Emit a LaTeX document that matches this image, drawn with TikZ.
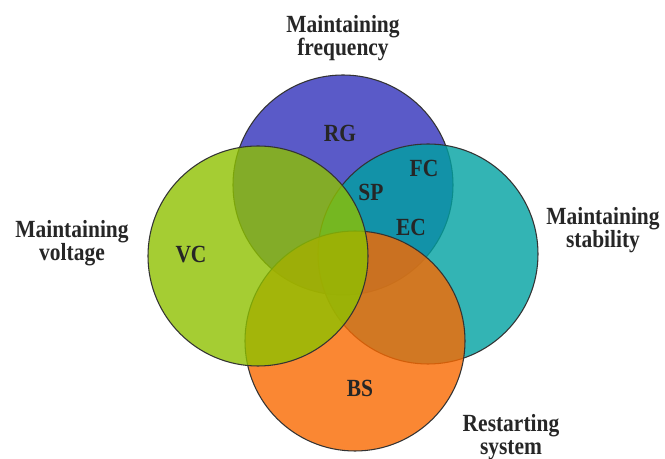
\documentclass[tikz,border=0pt]{standalone}
\usepackage{fontspec}
\setmainfont[FakeStretch=0.87]{Liberation Serif}

\definecolor{freqBlue}{RGB}{90,90,200}
\definecolor{voltGreen}{RGB}{142,193,0}
\definecolor{stabTeal}{RGB}{0,161,161}
\definecolor{restOrange}{RGB}{249,105,0}

\begin{document}
\begin{tikzpicture}
[x=0.75pt, y=-0.75pt,%
  ring/.style={circle, draw=black!80, line width=0.8pt, minimum size=165pt, inner sep=0pt, fill opacity=0.8},%
  tag/.style={font=\fontsize{18.5}{17.5}\selectfont\bfseries, align=center, text=black!85}]
\useasboundingbox (0,0) rectangle (665,459);
%% the four circles, back to front
\node[ring, fill=freqBlue, fill opacity=1] (freq) at (343,185) {};
\node[ring, fill=stabTeal] (stab) at (428,254) {};
\node[ring, fill=restOrange] (rest) at (355,341) {};
\node[ring, fill=voltGreen] (volt) at (258,256) {};
%% outer captions
\node[tag] (freqText) at (343,38) {Maintaining\\frequency};
\node[tag] (voltText) at (72,243) {Maintaining\\voltage};
\node[tag] (stabText) at (603,230) {Maintaining\\stability};
\node[tag] (restText) at (511,437) {Restarting\\system};
%% inner labels
\foreach \name/\x/\y in {RG/340/133, FC/424/168, SP/371/192, EC/411/227, VC/191/255, BS/360/388}
{
  \node[tag] (\name) at (\x,\y) {\name};
}
\end{tikzpicture}
\end{document}
